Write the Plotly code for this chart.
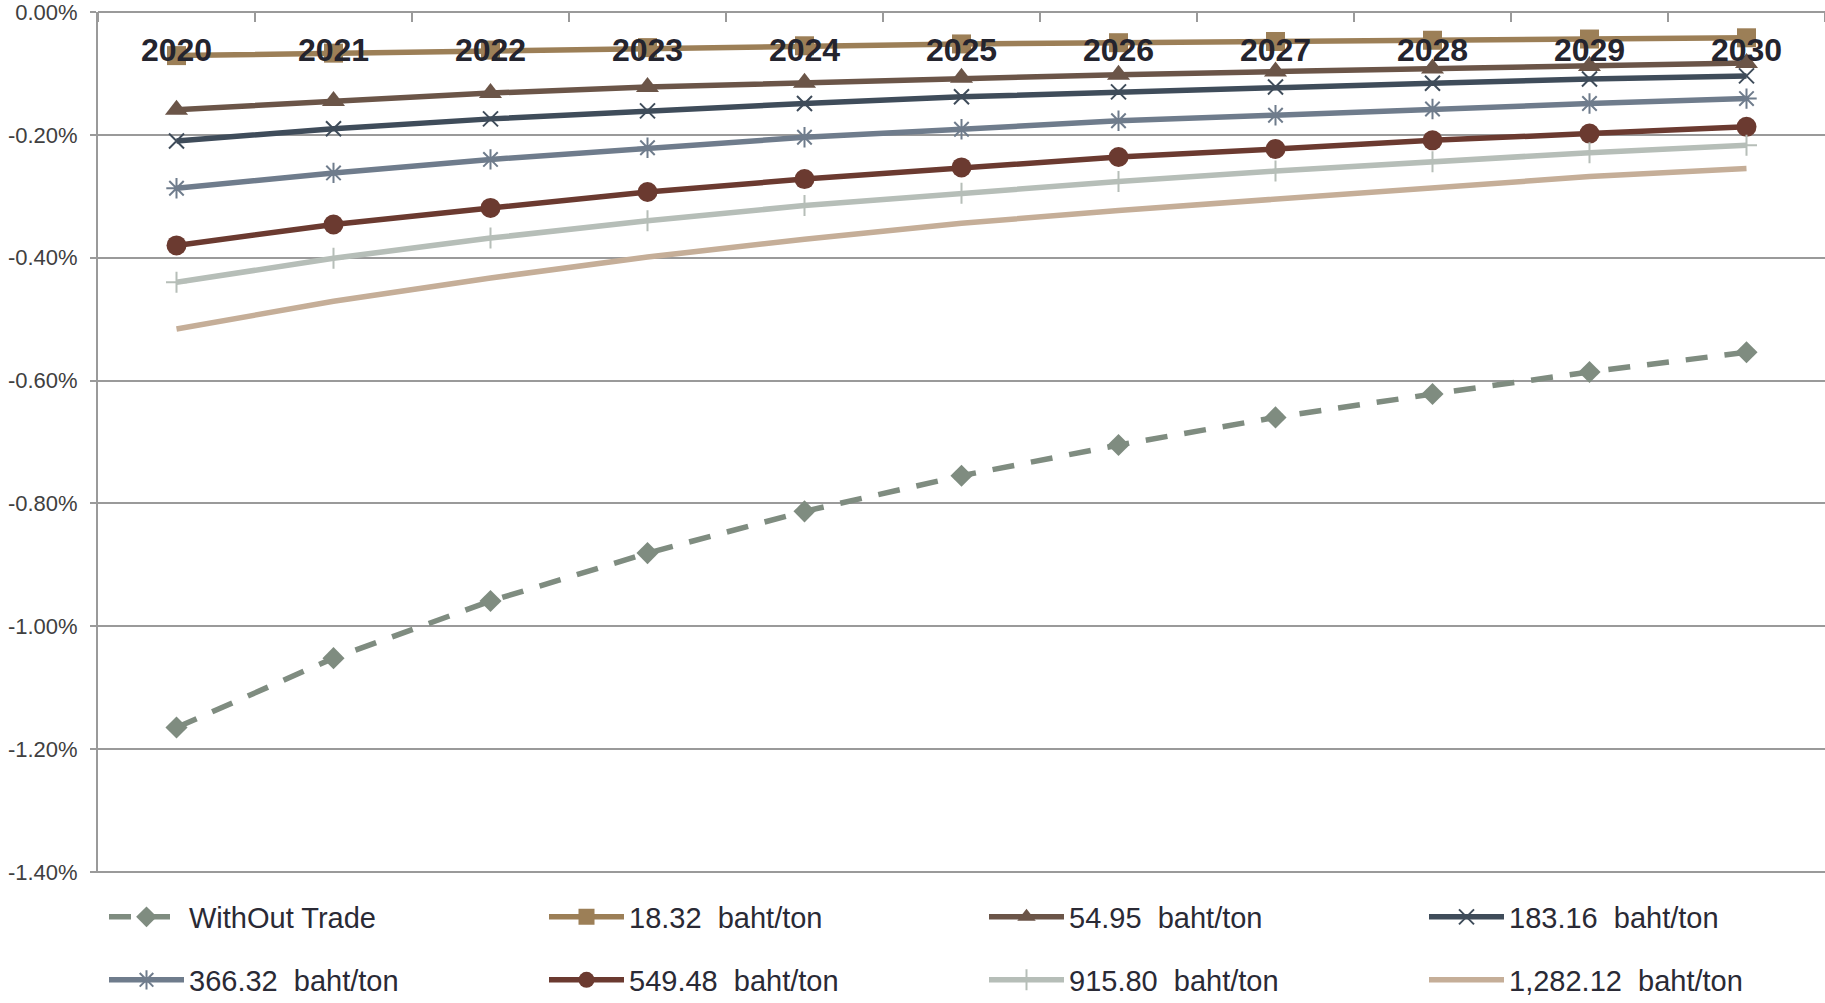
import plotly.graph_objects as go

# Years on the category axis
years = ["2020", "2021", "2022", "2023", "2024", "2025", "2026", "2027", "2028", "2029", "2030"]

# Change relative to baseline (%), one list per carbon price scenario
without_trade = [-1.165, -1.052, -0.959, -0.881, -0.813, -0.755, -0.705, -0.660, -0.622, -0.586, -0.554]
price_18_32 = [-0.071, -0.067, -0.062, -0.058, -0.055, -0.052, -0.050, -0.048, -0.046, -0.044, -0.042]
price_54_95 = [-0.159, -0.145, -0.132, -0.122, -0.115, -0.107, -0.102, -0.097, -0.092, -0.088, -0.083]
price_183_16 = [-0.210, -0.190, -0.174, -0.161, -0.149, -0.138, -0.130, -0.122, -0.116, -0.109, -0.104]
price_366_32 = [-0.287, -0.262, -0.240, -0.221, -0.204, -0.191, -0.177, -0.168, -0.158, -0.149, -0.141]
price_549_48 = [-0.380, -0.346, -0.319, -0.293, -0.272, -0.253, -0.236, -0.223, -0.209, -0.198, -0.187]
price_915_80 = [-0.440, -0.401, -0.368, -0.340, -0.315, -0.295, -0.276, -0.259, -0.244, -0.229, -0.217]
price_1282_12 = [-0.516, -0.471, -0.433, -0.399, -0.370, -0.344, -0.323, -0.304, -0.285, -0.268, -0.255]

series_names = [
    "WithOut Trade", "18.32  baht/ton", "54.95  baht/ton", "183.16  baht/ton",
    "366.32  baht/ton", "549.48  baht/ton", "915.80  baht/ton", "1,282.12  baht/ton",
]
series_values = [without_trade, price_18_32, price_54_95, price_183_16,
                 price_366_32, price_549_48, price_915_80, price_1282_12]

# Value axis ticks
y_tick_vals = [0, -0.2, -0.4, -0.6, -0.8, -1.0, -1.2, -1.4]
y_tick_text = ["0.00%", "-0.20%", "-0.40%", "-0.60%", "-0.80%", "-1.00%", "-1.20%", "-1.40%"]

# Line / marker styling per series
styles = [
    dict(color="#7f8c80", dash="22px,17px", symbol="diamond", size=17, open=False),
    dict(color="#9c7f57", dash="solid", symbol="square", size=19, open=False),
    dict(color="#6b5548", dash="solid", symbol="triangle-up", size=20, open=False),
    dict(color="#3f4c5a", dash="solid", symbol="x-thin", size=15, open=True),
    dict(color="#6f7c8c", dash="solid", symbol="asterisk", size=17, open=True),
    dict(color="#6b3a30", dash="solid", symbol="circle", size=20, open=False),
    dict(color="#b6beb8", dash="solid", symbol="cross-thin", size=15, open=True),
    dict(color="#c5ae98", dash="solid", symbol=None, size=0, open=False),
]

FONT = "Liberation Sans, Arial, sans-serif"

fig = go.Figure()
for i, (name, vals, st) in enumerate(zip(series_names, series_values, styles)):
    if st["symbol"] is None:
        mode = "lines"
        marker = None
    else:
        mode = "lines+markers"
        if st["open"]:
            marker = dict(symbol=st["symbol"], size=st["size"], color=st["color"],
                          line=dict(color=st["color"], width=2))
        else:
            marker = dict(symbol=st["symbol"], size=st["size"], color=st["color"],
                          line=dict(width=0))
    last_in_row = i in (3, 7)
    fig.add_trace(go.Scatter(
        x=years, y=vals, name=name, mode=mode, marker=marker,
        line=dict(color=st["color"], width=5.5, dash=st["dash"]),
        legend="legend" if i < 4 else "legend2",
        legendwidth=250 if last_in_row else None,
    ))

grid_col = "#9a9a9a"

legend_common = dict(
    orientation="h", xref="container", yref="container", xanchor="left", yanchor="middle",
    entrywidth=350, entrywidthmode="pixels", itemwidth=75,
    font=dict(family=FONT, size=29, color="#2a2a35"),
    bgcolor="rgba(0,0,0,0)", borderwidth=0, itemclick=False, itemdoubleclick=False,
    tracegroupgap=0,
)

fig.update_layout(
    width=1825, height=1003,
    margin=dict(l=98, r=0, t=12, b=130, autoexpand=False),
    paper_bgcolor="white", plot_bgcolor="white",
    font=dict(family=FONT),
    legend=dict(x=104 / 1825, y=1 - 917 / 1003, **legend_common),
    legend2=dict(x=104 / 1825, y=1 - 980 / 1003, **legend_common),
    # category axis drawn along the top edge, labels hanging below it
    xaxis=dict(
        type="category", range=[-0.5, 10.5],
        anchor="free", position=1, side="bottom",
        showline=True, linecolor=grid_col, linewidth=2,
        ticks="outside", ticklen=9, tickwidth=2, tickcolor=grid_col, tickson="boundaries",
        ticklabelstandoff=10,
        tickfont=dict(family=FONT, size=32, color="#24242e", weight="bold"),
        showgrid=False, zeroline=False,
    ),
    # the lower bound sits a hair below -1.40 so its gridline closes the frame
    yaxis=dict(
        range=[-1.4018, 0], tickvals=y_tick_vals, ticktext=y_tick_text,
        showgrid=True, gridcolor=grid_col, gridwidth=2,
        showline=True, linecolor=grid_col, linewidth=2,
        ticks="outside", ticklen=6, tickwidth=2, tickcolor=grid_col,
        ticklabelstandoff=8, ticklabeloverflow="allow",
        tickfont=dict(family=FONT, size=22, color="#404040"),
        zeroline=False,
    ),
)

fig.write_html("out.html")
